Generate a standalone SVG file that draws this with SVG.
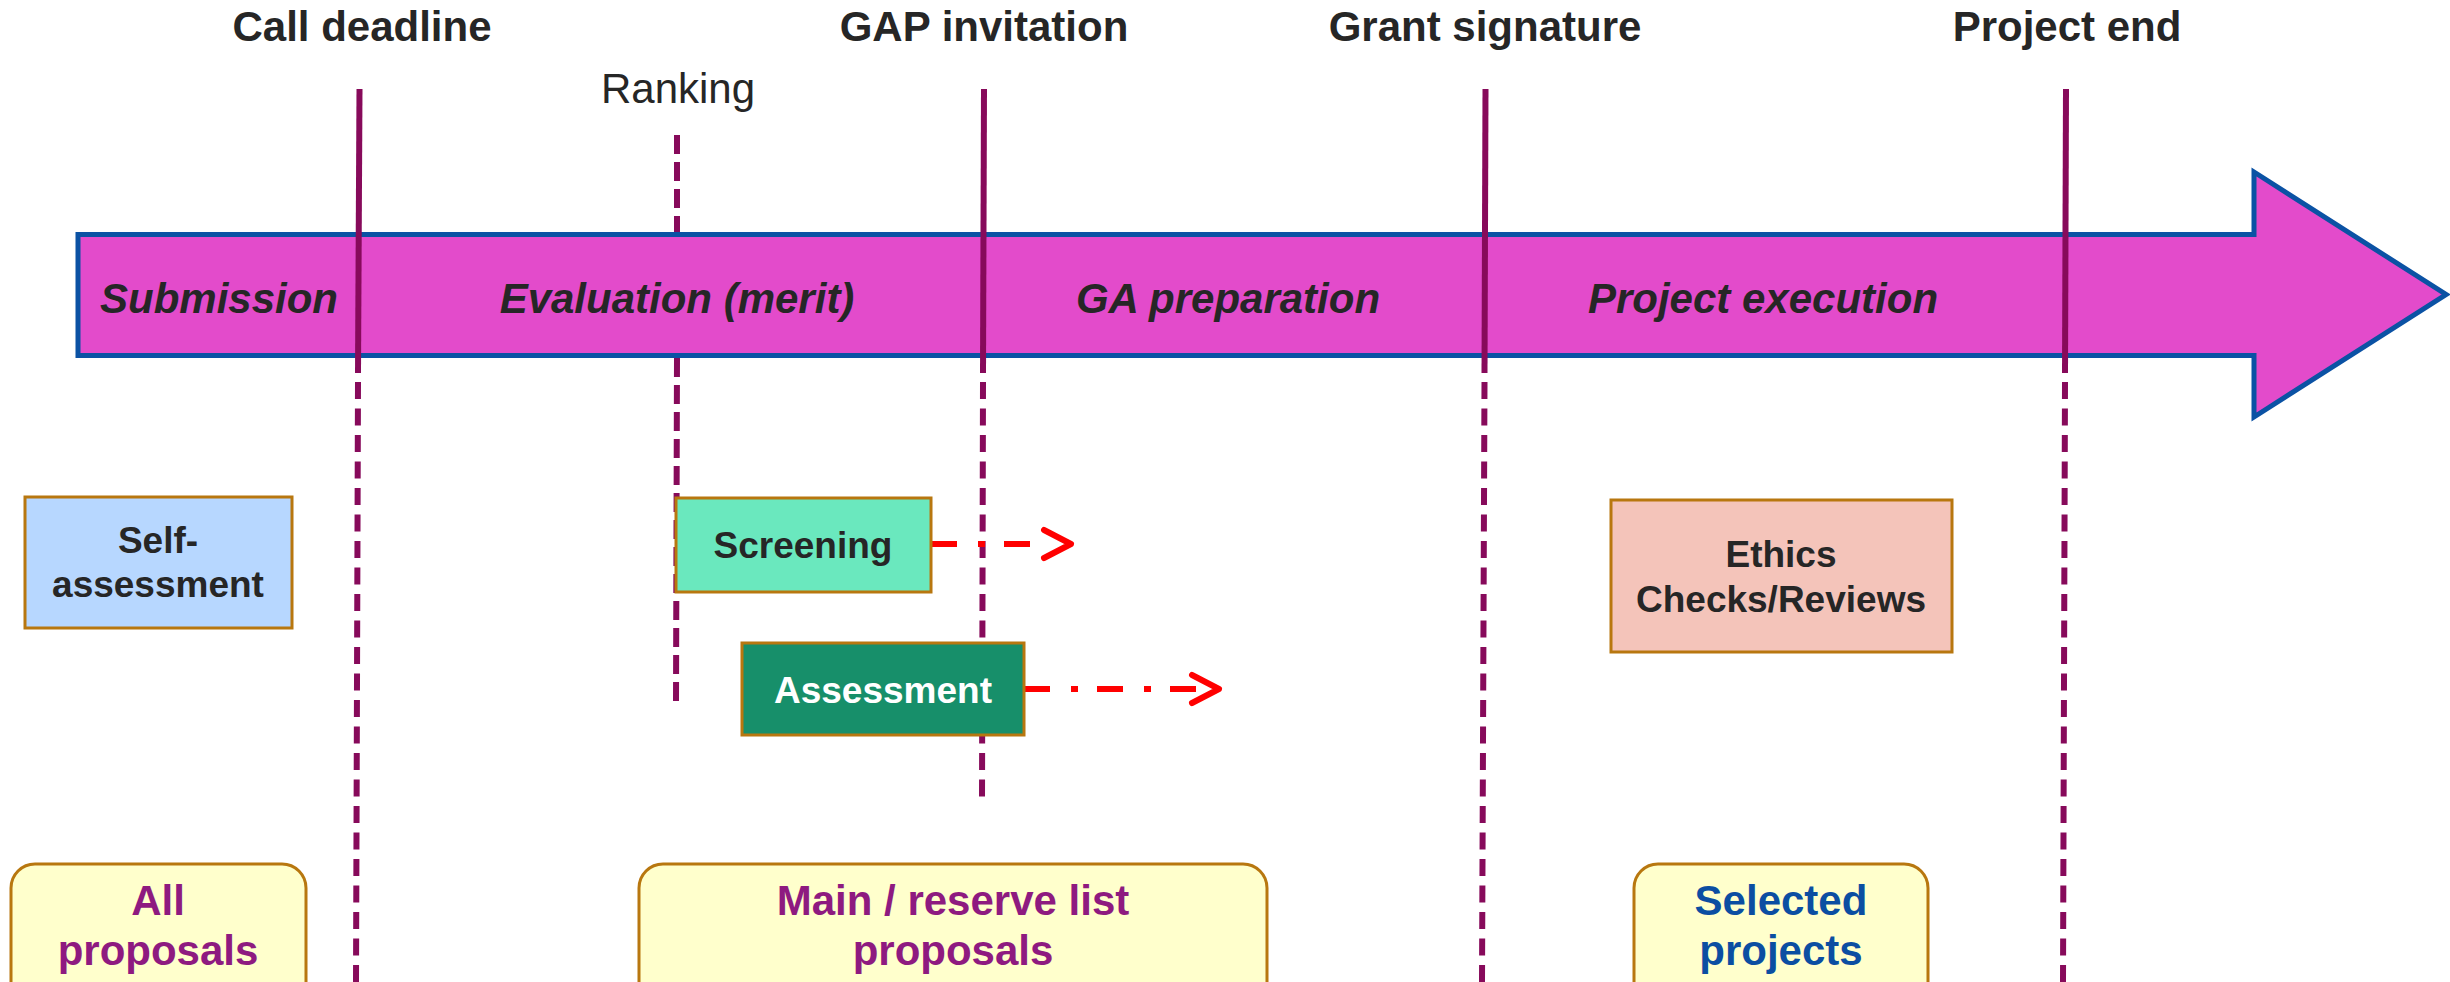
<svg xmlns="http://www.w3.org/2000/svg" width="2450" height="982" viewBox="0 0 2450 982">
<style>
  .title { font-family: "Liberation Sans", Arial, sans-serif; font-weight: bold; font-size: 42px; fill: #262626; text-anchor: middle; }
  .rank { font-family: "Liberation Sans", Arial, sans-serif; font-size: 42px; fill: #262626; text-anchor: middle; }
  .phase { font-family: "Liberation Sans", Arial, sans-serif; font-weight: bold; font-style: italic; font-size: 42px; fill: #262626; text-anchor: middle; }
  .btxt { font-family: "Liberation Sans", Arial, sans-serif; font-weight: bold; font-size: 37px; fill: #262626; text-anchor: middle; }
  .ltxt { font-family: "Liberation Sans", Arial, sans-serif; font-weight: bold; font-size: 42px; text-anchor: middle; }
  .solid { stroke: #870A5B; stroke-width: 6; fill: none; }
  .dash { stroke: #870A5B; stroke-width: 6; fill: none; stroke-dasharray: 17 9.5; }
  .rdash { stroke: #870A5B; stroke-width: 6; fill: none; stroke-dasharray: 19 8; }
  .box { stroke: #B8770F; stroke-width: 3; }
  .list { fill: #FFFFCC; stroke: #B8770F; stroke-width: 3; }
  .conn { stroke: #FF0000; stroke-width: 6; fill: none; stroke-dasharray: 26 21 7 19; }
  .chev { stroke: #FF0000; stroke-width: 6; fill: none; stroke-linecap: round; stroke-linejoin: round; }
</style>
<rect width="2450" height="982" fill="#FFFFFF"/>

<g id="ranking-line">
  <path class="rdash" d="M677,135 L677,236"/>
  <path class="rdash" d="M677,358 L676,703"/>
</g>

<g id="timeline-bar">
  <polygon points="78,234.5 2254,234.5 2254,172 2446,294.5 2254,417 2254,355.5 78,355.5" fill="#E34BCB" stroke="#0B52A4" stroke-width="5"/>
  <text class="phase" x="219" y="313">Submission</text>
  <text class="phase" x="677" y="313">Evaluation (merit)</text>
  <text class="phase" x="1228" y="313">GA preparation</text>
  <text class="phase" x="1763" y="313">Project execution</text>
</g>

<g id="milestones">
  <path class="solid" d="M359.5,89 L358,373"/>
  <path class="dash" d="M358,382 L356,982"/>
  <path class="solid" d="M984,89 L983,373"/>
  <path class="dash" d="M983,382 L982,803"/>
  <path class="solid" d="M1485.5,89 L1484.5,373"/>
  <path class="dash" d="M1484.5,382 L1482,982"/>
  <path class="solid" d="M2066,89 L2065,373"/>
  <path class="dash" d="M2065,382 L2063,982"/>
</g>

<g id="labels">
  <text class="title" x="362" y="41">Call deadline</text>
  <text class="title" x="984" y="41">GAP invitation</text>
  <text class="title" x="1485" y="41">Grant signature</text>
  <text class="title" x="2067" y="41">Project end</text>
  <text class="rank" x="678" y="103">Ranking</text>
</g>

<g id="connectors">
  <path class="conn" d="M931,544 L1031,544"/>
  <path class="chev" d="M1044,530 L1071,544 L1044,558"/>
  <path class="conn" d="M1024,689 L1197,689"/>
  <path class="chev" d="M1192,675 L1219,689 L1192,703"/>
</g>

<g id="self-assessment">
  <rect class="box" x="25" y="497" width="267" height="131" fill="#B7D7FF"/>
  <text class="btxt" x="158" y="553">Self-</text>
  <text class="btxt" x="158" y="597">assessment</text>
</g>

<g id="screening">
  <rect class="box" x="676" y="498" width="255" height="94" fill="#6AE8BE"/>
  <text class="btxt" x="803" y="558">Screening</text>
</g>

<g id="assessment">
  <rect class="box" x="742" y="643" width="282" height="92" fill="#178F6A"/>
  <text class="btxt" x="883" y="703" style="fill:#FFFFFF">Assessment</text>
</g>

<g id="ethics">
  <rect class="box" x="1611" y="500" width="341" height="152" fill="#F4C4BA"/>
  <text class="btxt" x="1781" y="567">Ethics</text>
  <text class="btxt" x="1781" y="612">Checks/Reviews</text>
</g>

<g id="all-proposals">
  <rect class="list" x="11" y="864" width="295" height="150" rx="24" ry="24"/>
  <text class="ltxt" x="158" y="915" fill="#8E1A80">All</text>
  <text class="ltxt" x="158" y="965" fill="#8E1A80">proposals</text>
</g>

<g id="main-reserve-list">
  <rect class="list" x="639" y="864" width="628" height="150" rx="24" ry="24"/>
  <text class="ltxt" x="953" y="915" fill="#8E1A80">Main / reserve list</text>
  <text class="ltxt" x="953" y="965" fill="#8E1A80">proposals</text>
</g>

<g id="selected-projects">
  <rect class="list" x="1634" y="864" width="294" height="150" rx="24" ry="24"/>
  <text class="ltxt" x="1781" y="915" fill="#0B4EA2">Selected</text>
  <text class="ltxt" x="1781" y="965" fill="#0B4EA2">projects</text>
</g>
</svg>
